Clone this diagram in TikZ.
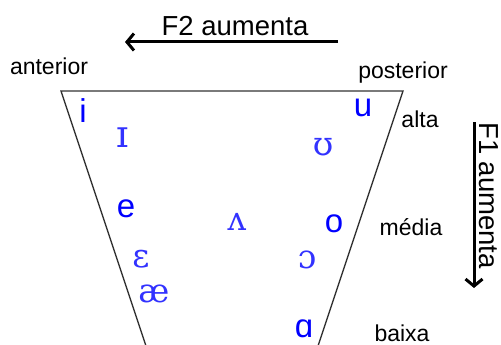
\documentclass[tikz,border=0pt]{standalone}
\usepackage{fontspec}
\setmainfont{Liberation Sans}
\newfontfamily\ipaserif{DejaVu Serif}
\usetikzlibrary{arrows.meta}
\definecolor{vblue}{RGB}{0,0,255}
\definecolor{ipablue}{RGB}{50,50,255}
\definecolor{edgegray}{RGB}{50,50,50}
\tikzset{
  lbl/.style={anchor=base, inner sep=0pt, text=black, font=\fontsize{23}{23}\selectfont},
  title/.style={anchor=base, inner sep=0pt, text=black, font=\fontsize{27.5}{27.5}\selectfont},
  sv/.style={anchor=base, inner sep=0pt, text=vblue, font=\fontsize{33}{33}\selectfont},
  iv/.style={anchor=base, inner sep=0pt, text=ipablue, font=\ipaserif\fontsize{33}{33}\selectfont},
  edge/.style={draw=edgegray, line width=1.4pt},
  bigarrow/.style={line width=3pt, -{Straight Barb[length=7pt,width=17pt]}}
}
\begin{document}
\begin{tikzpicture}[x=1pt,y=-1pt]
\useasboundingbox (0,0) rectangle (501,345);
% chart outline
\coordinate (tl) at (61,91);
\coordinate (tr) at (403,91);
\coordinate (bl) at (146,346);
\coordinate (br) at (318,346);
\draw[edge] (bl) -- (tl) -- (tr) -- (br);
% F2 arrow
\coordinate (f2s) at (338,42);
\coordinate (f2e) at (125,42);
\draw[bigarrow] (f2s) -- (f2e);
\node[title] (f2) at (235,36) {F2 aumenta};
% F1 arrow
\coordinate (f1s) at (474,122);
\coordinate (f1e) at (474,288);
\draw[bigarrow] (f1s) -- (f1e);
\node[title, font=\fontsize{27.5}{27.5}\selectfont, anchor=base west, rotate=-90] (f1) at (479,122) {F1 aumenta};
% labels
\node[lbl] (ant) at (49,75) {anterior};
\node[lbl] (post) at (403,78) {posterior};
\node[lbl] (alta) at (420,128) {alta};
\node[lbl] (media) at (411,235) {média};
\node[lbl] (baixa) at (402,341) {baixa};
% vowels
\node[sv] (vi) at (83,122) {i};
\node[sv] (ve) at (126,217) {e};
\node[sv] (vu) at (363,117) {u};
\node[sv] (vo) at (334,232) {o};
\node[sv] (va) at (304,337) {ɑ};
\node[iv, font=\ipaserif\fontsize{38}{38}\selectfont] (vI) at (123,147) {ɪ};
\node[iv] (vU) at (323,155) {ʊ};
\node[iv] (vV) at (237,230) {ʌ};
\node[iv] (vE) at (141,267) {ɛ};
\node[iv] (vae) at (154,302) {æ};
\node[iv] (vO) at (307,268) {ɔ};
\end{tikzpicture}
\end{document}
